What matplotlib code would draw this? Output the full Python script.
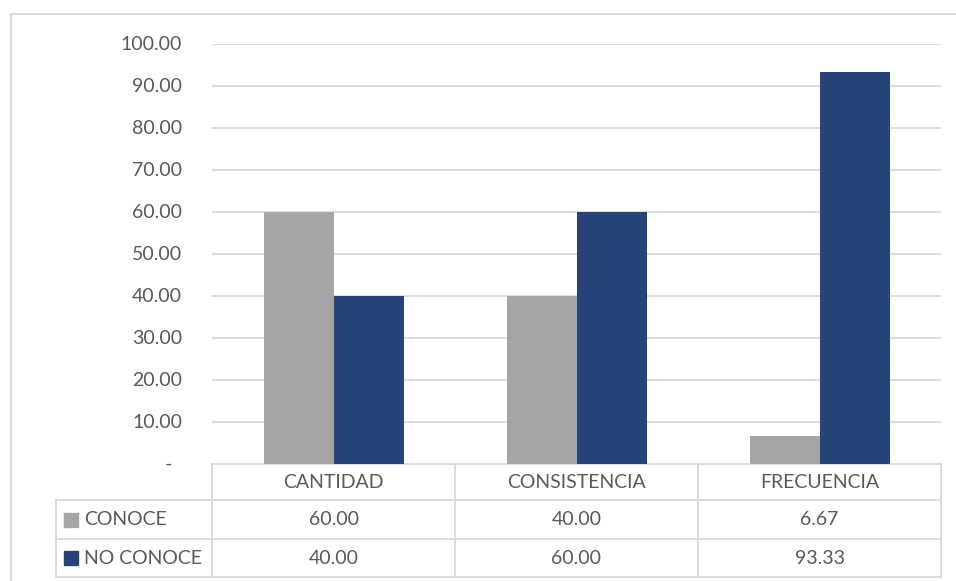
import matplotlib
matplotlib.use("Agg")
import matplotlib.pyplot as plt
from matplotlib.lines import Line2D
from matplotlib.patches import Rectangle
from matplotlib.transforms import blended_transform_factory

categories = ["CANTIDAD", "CONSISTENCIA", "FRECUENCIA"]
series_names = ["CONOCE", "NO CONOCE"]
conoce = [60.00, 40.00, 6.67]
no_conoce = [40.00, 60.00, 93.33]
y_ticks = [0, 10, 20, 30, 40, 50, 60, 70, 80, 90, 100]

GRAY = "#A5A5A5"
BLUE = "#264478"
TEXT = "#595959"
GRID = "#D9D9D9"
FONT = "Lato"
FS = 14

plt.rcParams["font.family"] = [FONT, "DejaVu Sans"]

W, H = 956, 581
fig = plt.figure(figsize=(W / 100, H / 100), dpi=100)

# plot area in pixel terms
left_px, right_px, top_px, base_px = 212, 941, 44, 464
ax = fig.add_axes([left_px / W, 1 - base_px / H,
                   (right_px - left_px) / W, (base_px - top_px) / H])
ax.set_xlim(-0.5, len(categories) - 0.5)
ax.set_ylim(0, 100)
for s in ax.spines.values():
    s.set_visible(False)
ax.set_xticks([])
ax.set_yticks(y_ticks[1:])
ax.set_yticklabels([])
ax.tick_params(axis="y", length=0)
ax.yaxis.grid(True, color=GRID, linewidth=1.3)
ax.set_axisbelow(True)

# bars
bw = 70 / 243
xs = list(range(len(categories)))
ax.bar([x - bw / 2 for x in xs], conoce, width=bw, color=GRAY, zorder=3)
ax.bar([x + bw / 2 for x in xs], no_conoce, width=bw, color=BLUE, zorder=3)

# y tick labels
ytr = ax.get_yaxis_transform()
for v in y_ticks:
    if v == 0:
        ax.annotate("-", xy=(0, v), xycoords=ytr, xytext=(-40 * 0.72, 0),
                    textcoords="offset points", ha="right", va="center",
                    color=TEXT, fontsize=FS)
    else:
        ax.annotate(f"{v:.2f}", xy=(0, v), xycoords=ytr, xytext=(-30 * 0.72, 0),
                    textcoords="offset points", ha="right", va="center",
                    color=TEXT, fontsize=FS)

# data table under the plot (x in data units, y in axes fraction)
tr = blended_transform_factory(ax.transData, ax.transAxes)
ah = base_px - top_px
def fy(ypx):
    return -(ypx - base_px) / ah

unit = (right_px - left_px) / len(categories)
x_lo = -0.5
x_hi = len(categories) - 0.5
x_leg = -0.5 - (left_px - 56) / unit
row_lines = [500, 539, 577]
lk = dict(color=GRID, linewidth=1.3, transform=tr, clip_on=False, zorder=1)

ax.plot([x_lo, x_hi], [fy(base_px)] * 2, **lk)
for y in row_lines:
    ax.plot([x_leg, x_hi], [fy(y)] * 2, **lk)
for i in range(len(categories) + 1):
    x = -0.5 + i
    ax.plot([x, x], [fy(base_px), fy(577)], **lk)
ax.plot([x_leg, x_leg], [fy(500), fy(577)], **lk)

# header row
for x, c in zip(xs, categories):
    ax.text(x, fy(482), c, transform=tr, ha="center", va="center",
            color=TEXT, fontsize=FS)

# value rows with legend keys
row_centers = [519.5, 558]
for yc, name, vals, col in zip(row_centers, series_names, [conoce, no_conoce], [GRAY, BLUE]):
    key_x = -0.5 - (left_px - 64) / unit
    key_w = 14 / unit
    key_h = 14 / ah
    ax.add_patch(Rectangle((key_x, fy(yc) - key_h / 2), key_w, key_h,
                           transform=tr, color=col, clip_on=False))
    ax.text(-0.5 - (left_px - 84) / unit, fy(yc), name, transform=tr,
            ha="left", va="center", color=TEXT, fontsize=FS)
    for x, v in zip(xs, vals):
        ax.text(x, fy(yc), f"{v:.2f}", transform=tr, ha="center", va="center",
                color=TEXT, fontsize=FS)

# chart frame
fig.add_artist(Line2D([11 / W, 11 / W], [0, 1 - 14 / H], color=GRID, linewidth=1.5))
fig.add_artist(Line2D([11 / W, 1], [1 - 14 / H, 1 - 14 / H], color=GRID, linewidth=1.5))

fig.savefig("out.png", dpi=100, facecolor="white")
